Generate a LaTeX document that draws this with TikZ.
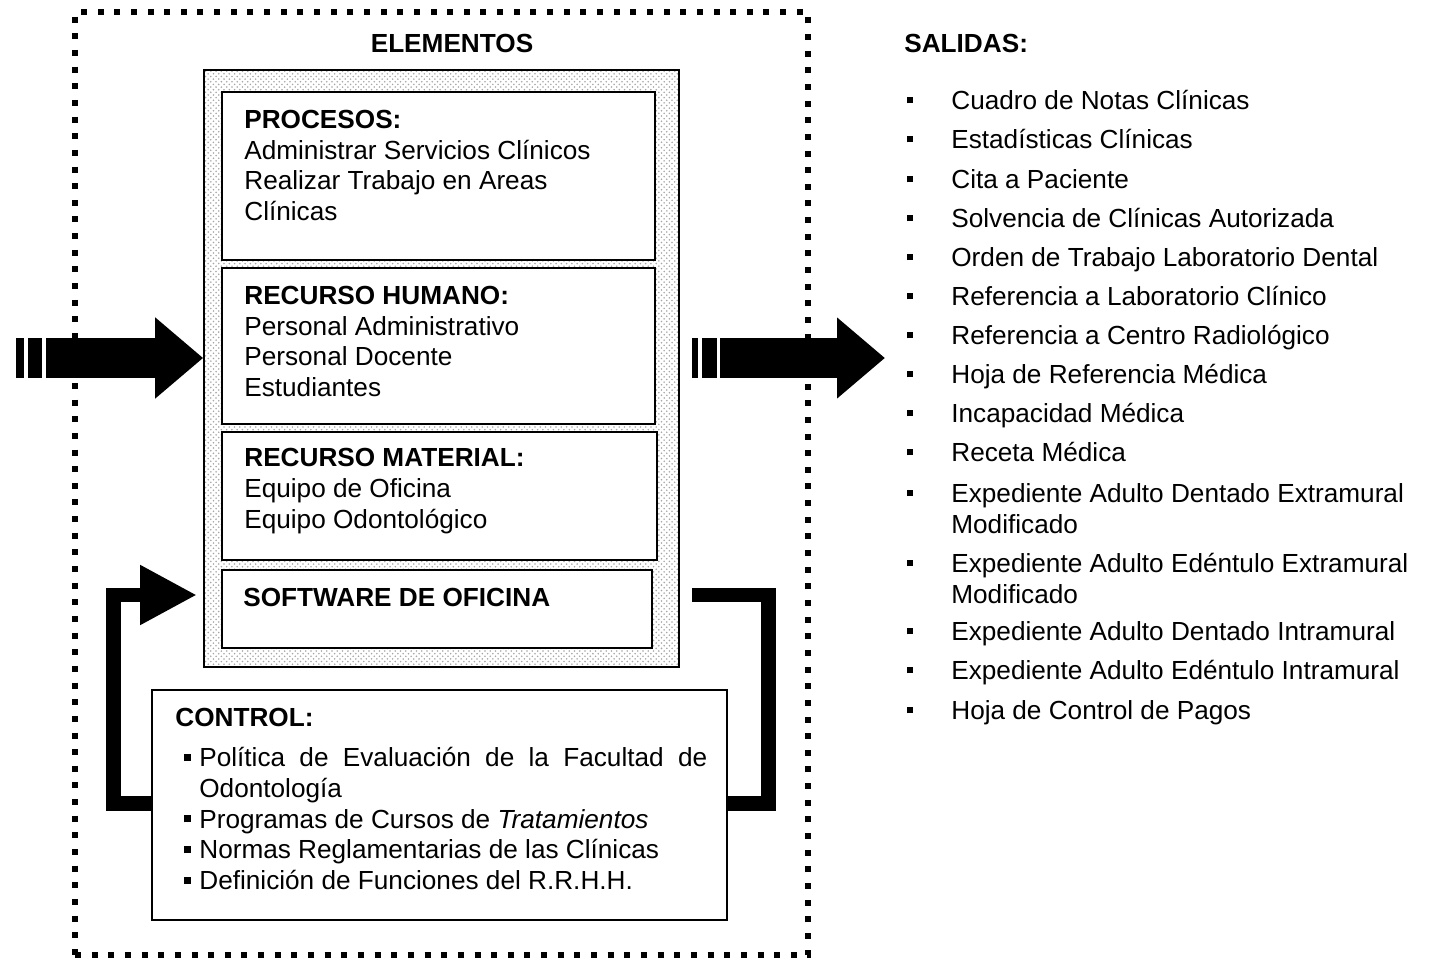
\documentclass[tikz,border=0pt]{standalone}
\usepackage{fontspec}
\setmainfont{Liberation Sans}
\usetikzlibrary{arrows.meta,fit,patterns}
\newcommand{\vineta}{\rule[3.6pt]{3.4pt}{3.4pt}}
\newcommand{\vinetac}{\rule[3.2pt]{4pt}{4pt}}
\tikzset{
  txt/.style = {inner sep=0pt, align=left, anchor=west,
    font=\fontsize{14.9pt}{17.6pt}\selectfont},
  linea/.style = {txt, text height=13pt, text depth=3pt},
  negrita/.style = {linea, font=\fontsize{14.9pt}{17.6pt}\selectfont\bfseries},
  caja/.style = {draw=black, line width=1.1pt, fill=white, inner sep=0pt},
  marco/.style = {draw=black, line width=0.9pt, inner sep=0pt,
    pattern=crosshatch dots, pattern color=black!35},
  punteado/.style = {draw=black, line width=0.12cm,
    dash pattern=on 0.12cm off 0.213cm, inner sep=0pt},
  flecha/.style = {draw, line width=0.8cm, -{Triangle[length=0.96cm,width=1.56cm]}},
  retro/.style = {draw, line width=0.3cm, line join=miter},
  barra/.style = {fill=black},
}
\begin{document}
\begin{tikzpicture}[x=0.02cm,y=-0.02cm]
\useasboundingbox (0,0) rectangle (1430,962);

% sistema y elementos
\node[punteado, fit={(75,12) (808,955)}] (sist) {};
\node[negrita, anchor=center] (tElem) at (452,44) {ELEMENTOS};
\node[marco, fit={(204,70) (679,667)}] (elem) {};
\node[caja, fit={(222,92) (655,260)}] (proc) {};
\node[caja, fit={(222,268) (655,424)}] (rhum) {};
\node[caja, fit={(222,432) (657,560)}] (rmat) {};
\node[caja, fit={(222,570) (652,648)}] (soft) {};
\node[caja, line width=0.9pt, fit={(152,690) (727,920)}] (ctrl) {};

\node[txt] (tProc) at (244,165.5) {\textbf{PROCESOS:}\\Administrar Servicios Clínicos\\Realizar Trabajo en Areas\\Clínicas};
\node[txt] (tRhum) at (244,341.5) {\textbf{RECURSO HUMANO:}\\Personal Administrativo\\Personal Docente\\Estudiantes};
\node[txt] (tRmat) at (244,491) {\textbf{RECURSO MATERIAL:}\\Equipo de Oficina\\Equipo Odontológico};
\node[negrita] (tSoft) at (243,598) {SOFTWARE DE OFICINA};

\node[negrita] (tCtrl) at (175,718) {CONTROL:};
\node[txt, font=\fontsize{14.9pt}{17.45pt}\selectfont] (lCtrl) at (199,818.5)
  {\llap{\vinetac\hspace{0.16cm}}\makebox[10.16cm][s]{Política de Evaluación de la Facultad de}\\
   Odontología\\
   \llap{\vinetac\hspace{0.16cm}}Programas de Cursos de \textit{Tratamientos}\\
   \llap{\vinetac\hspace{0.16cm}}Normas Reglamentarias de las Clínicas\\
   \llap{\vinetac\hspace{0.16cm}}Definición de Funciones del R.R.H.H.};

% entrada y salida
\coordinate (eIn) at (46,358);
\coordinate (eOut) at (720,358);
\coordinate (sOut) at (885,358);
\fill[barra] (16,338) rectangle (24,378);
\fill[barra] (28,338) rectangle (42,378);
\path[flecha] (eIn) -- (elem.west |- eIn);
\fill[barra] (692,338) rectangle (698,378);
\fill[barra] (702,338) rectangle (717,378);
\path[flecha] (eOut) -- (sOut);

% retroalimentacion
\coordinate (rIzq) at (113,803);
\coordinate (rDer) at (768,803);
\coordinate (pSoft) at (692,595);
\coordinate (pEnt) at (197,595);
\path[retro, -{Triangle[length=1.14cm,width=1.12cm]}] (ctrl.west |- rIzq) -- (rIzq) |- (pEnt);
\path[retro] (pSoft) -| (rDer) -- (ctrl.east |- rDer);

% salidas
\node[negrita] (tSal) at (904,44) {SALIDAS:};
\node[linea] (s1) at (951,101) {\llap{\vineta\hspace{0.76cm}}Cuadro de Notas Clínicas};
\node[linea] (s2) at (951,140) {\llap{\vineta\hspace{0.76cm}}Estadísticas Clínicas};
\node[linea] (s3) at (951,180) {\llap{\vineta\hspace{0.76cm}}Cita a Paciente};
\node[linea] (s4) at (951,219) {\llap{\vineta\hspace{0.76cm}}Solvencia de Clínicas Autorizada};
\node[linea] (s5) at (951,258) {\llap{\vineta\hspace{0.76cm}}Orden de Trabajo Laboratorio Dental};
\node[linea] (s6) at (951,297) {\llap{\vineta\hspace{0.76cm}}Referencia a Laboratorio Clínico};
\node[linea] (s7) at (951,336) {\llap{\vineta\hspace{0.76cm}}Referencia a Centro Radiológico};
\node[linea] (s8) at (951,375) {\llap{\vineta\hspace{0.76cm}}Hoja de Referencia Médica};
\node[linea] (s9) at (951,414) {\llap{\vineta\hspace{0.76cm}}Incapacidad Médica};
\node[linea] (s10) at (951,453) {\llap{\vineta\hspace{0.76cm}}Receta Médica};
\node[txt] (s11) at (951,508.5) {\llap{\vineta\hspace{0.76cm}}Expediente Adulto Dentado Extramural\\Modificado};
\node[txt] (s12) at (951,578.5) {\llap{\vineta\hspace{0.76cm}}Expediente Adulto Edéntulo Extramural\\Modificado};
\node[linea] (s13) at (951,632) {\llap{\vineta\hspace{0.76cm}}Expediente Adulto Dentado Intramural};
\node[linea] (s14) at (951,671) {\llap{\vineta\hspace{0.76cm}}Expediente Adulto Edéntulo Intramural};
\node[linea] (s15) at (951,711) {\llap{\vineta\hspace{0.76cm}}Hoja de Control de Pagos};
\end{tikzpicture}
\end{document}
